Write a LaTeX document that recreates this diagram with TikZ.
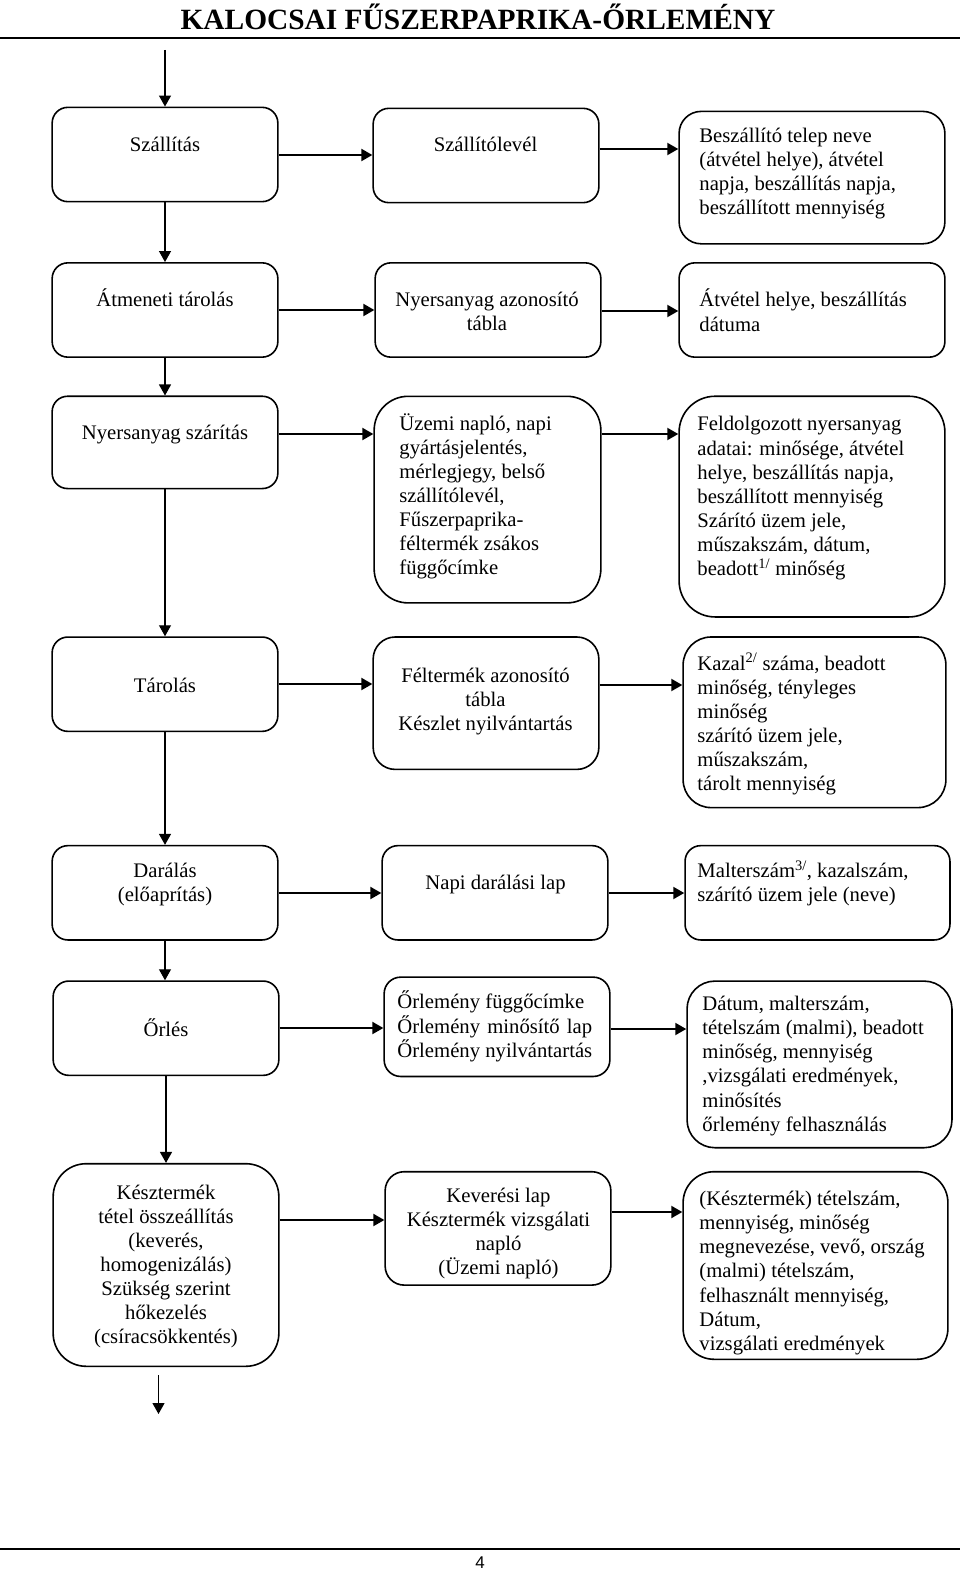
\documentclass[tikz,border=0pt]{standalone}
\usepackage{fontspec}
\setmainfont{Liberation Serif}
\newfontfamily\pnfont{Liberation Sans}
\usepackage{calc}
\usetikzlibrary{arrows.meta}
\newcommand\bodyfont{\fontsize{20.7}{24.1}\selectfont}
\begin{document}
\begin{tikzpicture}[x=1pt,y=-1pt,
  box/.style={draw, line width=1.6pt, inner sep=0pt},
  txt/.style={inner sep=0pt, font=\bodyfont, execute at begin node={\rule{0pt}{20pt}}},
  ctxt/.style={txt, align=center, anchor=north},
  ltxt/.style={txt, align=left, anchor=north west},
  varr/.style={line width=1.2pt, -{Triangle[length=11pt,width=12pt]}},
  harr/.style={line width=2pt, -{Triangle[length=11pt,width=12pt]}},
]
\fill[white] (0,0) rectangle (960,1573);
\useasboundingbox (0,0) rectangle (960,1573);

% title and rules
\node[font=\fontsize{29.4}{30}\selectfont\bfseries, anchor=base, inner sep=0pt] (title) at (478,30) {KALOCSAI FŰSZERPAPRIKA-ŐRLEMÉNY};
\draw[line width=2pt] (0,38.3) -- (960,38.3);
\draw[line width=2pt] (0,1549.3) -- (960,1549.3);
\node[font=\pnfont\fontsize{17}{20}\selectfont, anchor=base, inner sep=0pt] (pn) at (480,1568) {4};

% left column boxes
\node[box, rounded corners=15.7pt, minimum width=225.7pt, minimum height=94.3pt] (L1) at (165,154.5) {};
\node[box, rounded corners=15.7pt, minimum width=225.7pt, minimum height=94.3pt] (L2) at (165,310) {};
\node[box, rounded corners=15.4pt, minimum width=225.7pt, minimum height=92.3pt] (L3) at (165,442.4) {};
\node[box, rounded corners=15.7pt, minimum width=225.7pt, minimum height=94.3pt] (L4) at (165,684.2) {};
\node[box, rounded corners=15.7pt, minimum width=225.7pt, minimum height=94.3pt] (L5) at (165,892.8) {};
\node[box, rounded corners=15.7pt, minimum width=225.7pt, minimum height=94.3pt] (L6) at (166,1028.2) {};
\node[box, rounded corners=33pt, minimum width=225.7pt, minimum height=202.6pt] (L7) at (166,1265) {};

% middle column boxes
\node[box, rounded corners=15.7pt, minimum width=225.7pt, minimum height=94.3pt] (M1) at (486,155.5) {};
\node[box, rounded corners=15.7pt, minimum width=225.7pt, minimum height=94.3pt] (M2) at (488,310) {};
\node[box, rounded corners=34pt, minimum width=226.7pt, minimum height=206.6pt] (M3) at (487.5,499.6) {};
\node[box, rounded corners=22pt, minimum width=225.7pt, minimum height=132.4pt] (M4) at (486,703.2) {};
\node[box, rounded corners=15.7pt, minimum width=225.7pt, minimum height=94.3pt] (M5) at (495,892.8) {};
\node[box, rounded corners=16.5pt, minimum width=225.7pt, minimum height=99.3pt] (M6) at (497,1026.8) {};
\node[box, rounded corners=19pt, minimum width=225.7pt, minimum height=113.4pt] (M7) at (498,1228.4) {};

% right column boxes
\node[box, rounded corners=22pt, minimum width=265.8pt, minimum height=132.4pt] (R1) at (812,177.6) {};
\node[box, rounded corners=15.7pt, minimum width=265.8pt, minimum height=94.3pt] (R2) at (812,310) {};
\node[box, rounded corners=36pt, minimum width=265.8pt, minimum height=220.7pt] (R3) at (812,506.6) {};
\node[box, rounded corners=28pt, minimum width=262.8pt, minimum height=170.6pt] (R4) at (814.5,722.3) {};
\node[box, rounded corners=15.7pt, minimum width=264.9pt, minimum height=94.3pt] (R5) at (817.5,892.8) {};
\node[box, rounded corners=27.8pt, minimum width=264.9pt, minimum height=166.6pt] (R6) at (819.5,1064.4) {};
\node[box, rounded corners=31pt, minimum width=264.8pt, minimum height=187.6pt] (R7) at (815.5,1265.5) {};

% texts left
\node[ctxt] (tL1) at (165,131) {Szállítás};
\node[ctxt] (tL2) at (165,286) {Átmeneti tárolás};
\node[ctxt] (tL3) at (165,419.4) {Nyersanyag szárítás};
\node[ctxt] (tL4) at (165,672.5) {Tárolás};
\node[ctxt] (tL5) at (165,862.8) {Darálás\\(előaprítás)};
\node[ctxt] (tL6) at (166,1016.5) {Őrlés};
\node[ctxt] (tL7) at (166,1184.5) {Késztermék\\tétel összeállítás\\(keverés,\\homogenizálás)\\Szükség szerint\\hőkezelés\\(csíracsökkentés)};

% texts middle
\node[ctxt] (tM1) at (485.5,131) {Szállítólevél};
\node[ctxt] (tM2) at (487,292) {Nyersanyag azonosító\\tábla};
\node[ltxt] (tM3) at (399.2,413.4) {Üzemi napló, napi\\gyártásjelentés,\\mérlegjegy, belső\\szállítólevél,\\Fűszerpaprika-\\féltermék zsákos\\függőcímke};
\node[ctxt] (tM4) at (485.5,668) {Féltermék azonosító\\tábla\\Készlet nyilvántartás};
\node[ctxt] (tM5) at (495.5,869) {Napi darálási lap};
\node[ltxt] (tM6) at (397.2,991) {Őrlemény függőcímke\\\makebox[\widthof{Őrlemény nyilvántartás}][s]{Őrlemény minősítő lap}\\Őrlemény nyilvántartás};
\node[ctxt] (tM7) at (498.5,1187.5) {Keverési lap\\Késztermék vizsgálati\\napló\\(Üzemi napló)};

% texts right
\node[ltxt] (tR1) at (699.2,128) {Beszállító telep neve\\(átvétel helye), átvétel\\napja, beszállítás napja,\\beszállított mennyiség};
\node[ltxt] (tR2) at (699.2,289) {Átvétel helye, beszállítás\\dátuma};
\node[ltxt] (tR3) at (697.2,416.4) {Feldolgozott nyersanyag\\adatai: minősége, átvétel\\helye, beszállítás napja,\\beszállított mennyiség\\Szárító üzem jele,\\műszakszám, dátum,\\beadott\textsuperscript{1/} minőség};
\node[ltxt] (tR4) at (697.2,653) {Kazal\textsuperscript{2/} száma, beadott\\minőség, tényleges\\minőség\\szárító üzem jele,\\műszakszám,\\tárolt mennyiség};
\node[ltxt] (tR5) at (697.2,860.5) {Malterszám\textsuperscript{3/}, kazalszám,\\szárító üzem jele (neve)};
\node[ltxt] (tR6) at (702.2,996) {Dátum, malterszám,\\tételszám (malmi), beadott\\minőség, mennyiség\\,vizsgálati eredmények,\\minősítés\\őrlemény felhasználás};
\node[ltxt] (tR7) at (699.2,1191) {(Késztermék) tételszám,\\mennyiség, minőség\\megnevezése, vevő, ország\\(malmi) tételszám,\\felhasznált mennyiség,\\Dátum,\\vizsgálati eredmények};

% vertical flow
\coordinate (start) at (165,50);
\draw[varr] (start) -- (L1.north);
\draw[varr] (L1.south) -- (L2.north);
\draw[varr] (L2.south) -- (L3.north);
\draw[varr] (L3.south) -- (L4.north);
\draw[varr] (L4.south) -- (L5.north);
\draw[varr] (L5.south) -- (L5.south |- L6.north);
\draw[varr] (L6.south) -- (L7.north);
\coordinate (e1) at (158.5,1375);
\coordinate (e2) at (158.5,1414);
\draw[varr] (e1) -- (e2);

% horizontal arrows
\draw[harr] (L1.east |- 0,155) -- (M1.west |- 0,155);
\draw[harr] (M1.east |- 0,149) -- (R1.west |- 0,149);
\draw[harr] (L2.east |- 0,310) -- (M2.west |- 0,310);
\draw[harr] (M2.east |- 0,311) -- (R2.west |- 0,311);
\draw[harr] (L3.east |- 0,434) -- (M3.west |- 0,434);
\draw[harr] (M3.east |- 0,434) -- (R3.west |- 0,434);
\draw[harr] (L4.east |- 0,684) -- (M4.west |- 0,684);
\draw[harr] (M4.east |- 0,685) -- (R4.west |- 0,685);
\draw[harr] (L5.east |- 0,893) -- (M5.west |- 0,893);
\draw[harr] (M5.east |- 0,893) -- (R5.west |- 0,893);
\draw[harr] (L6.east |- 0,1028) -- (M6.west |- 0,1028);
\draw[harr] (M6.east |- 0,1029) -- (R6.west |- 0,1029);
\draw[harr] (L7.east |- 0,1220) -- (M7.west |- 0,1220);
\draw[harr] (M7.east |- 0,1212) -- (R7.west |- 0,1212);
\end{tikzpicture}
\end{document}
